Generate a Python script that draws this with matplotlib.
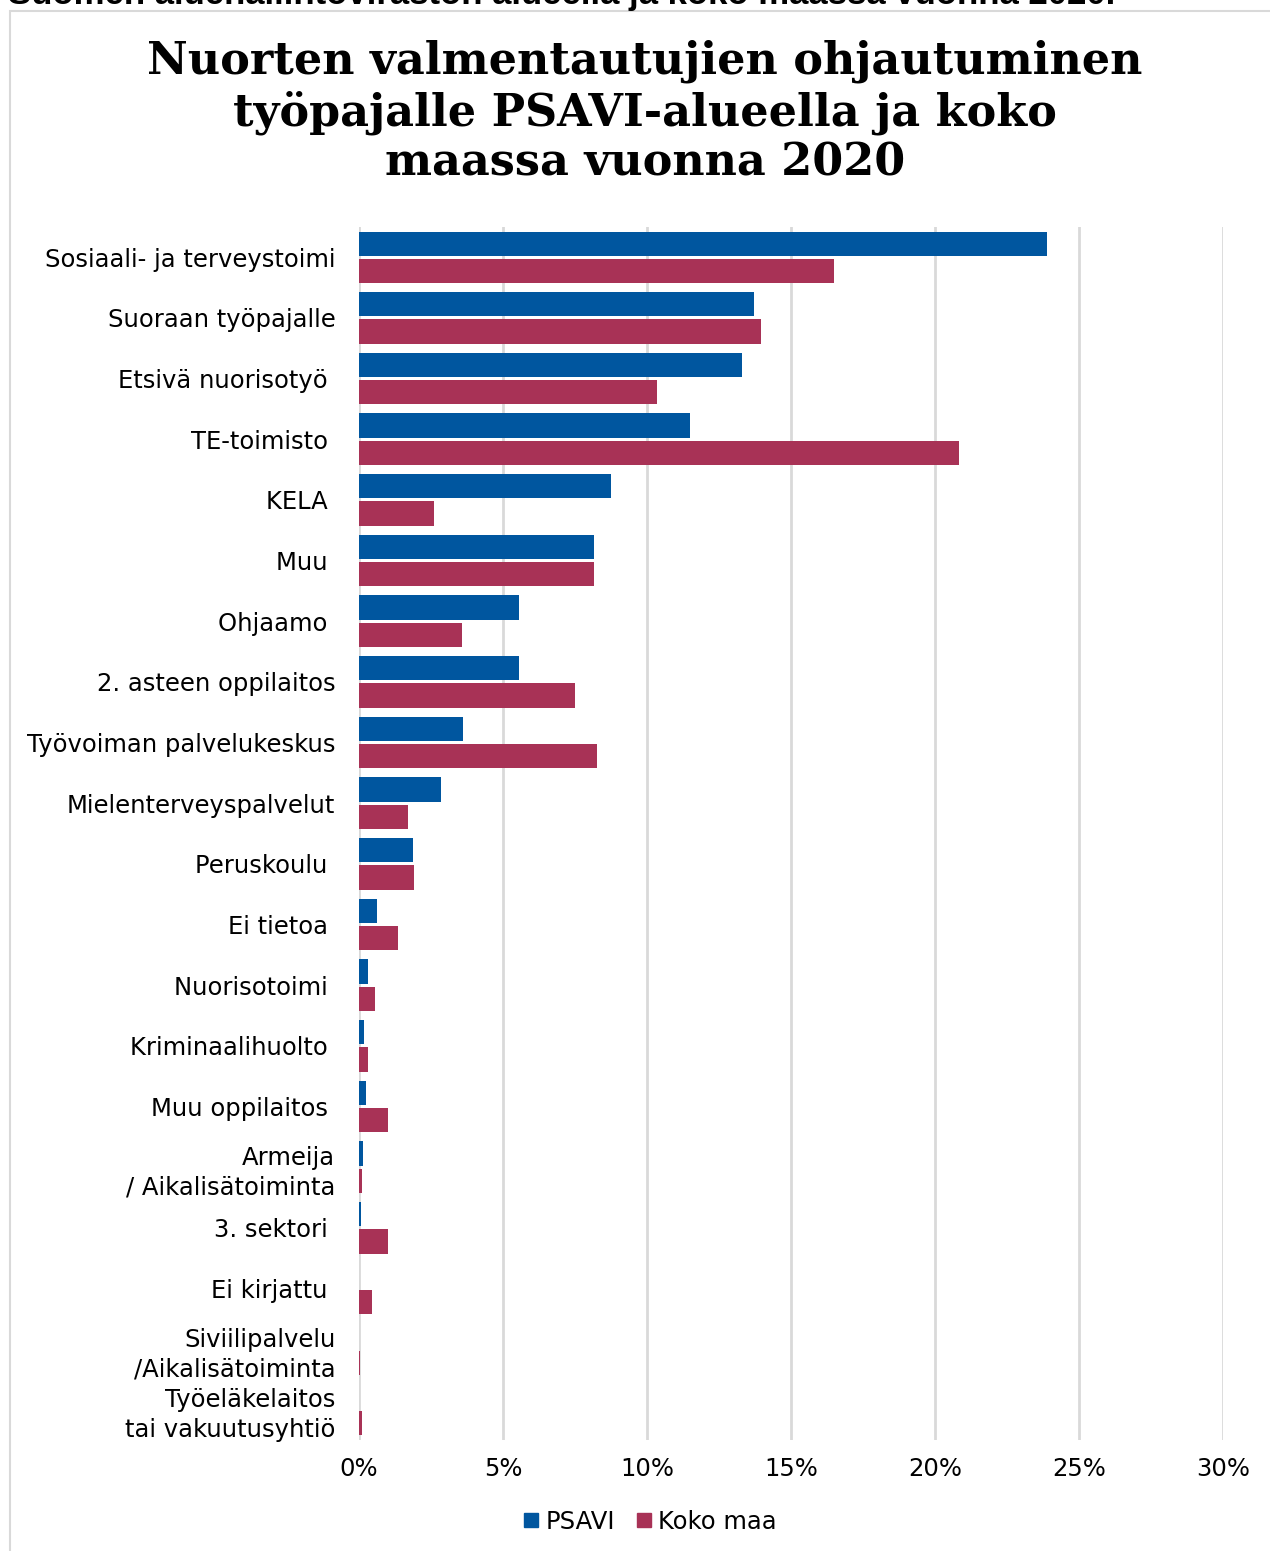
import matplotlib
matplotlib.use("Agg")
import matplotlib.pyplot as plt
from matplotlib.patches import Rectangle
from matplotlib.lines import Line2D
import numpy as np

categories = [
    "Sosiaali- ja terveystoimi",
    "Suoraan työpajalle",
    "Etsivä nuorisotyö ",
    "TE-toimisto ",
    "KELA ",
    "Muu ",
    "Ohjaamo ",
    "2. asteen oppilaitos",
    "Työvoiman palvelukeskus",
    "Mielenterveyspalvelut",
    "Peruskoulu ",
    "Ei tietoa ",
    "Nuorisotoimi ",
    "Kriminaalihuolto ",
    "Muu oppilaitos ",
    "Armeija\n/ Aikalisätoiminta",
    "3. sektori ",
    "Ei kirjattu ",
    "Siviilipalvelu\n/Aikalisätoiminta",
    "Työeläkelaitos\ntai vakuutusyhtiö",
]
psavi = [23.9, 13.7, 13.3, 11.5, 8.75, 8.15, 5.55, 5.55, 3.6, 2.85,
         1.87, 0.62, 0.31, 0.17, 0.24, 0.14, 0.07, 0.0, 0.0, 0.0]
koko_maa = [16.5, 13.95, 10.35, 20.85, 2.6, 8.15, 3.57, 7.5, 8.25, 1.7,
            1.9, 1.35, 0.55, 0.31, 1.0, 0.1, 1.0, 0.45, 0.05, 0.1]
series_names = ["PSAVI", "Koko maa"]
xticks = [0, 5, 10, 15, 20, 25, 30]

blue = "#00569F"
red = "#A83256"

fig = plt.figure(figsize=(12.7, 15.51), dpi=100)
W, H = 1270, 1551

# frame
fig.patches.append(Rectangle((10 / W, -0.01), 1.0, 1 - 11 / H + 0.01,
                             transform=fig.transFigure, fill=False,
                             edgecolor="#D9D9D9", linewidth=1.5))

# cut-off header text
fig.text(8 / W, 1 - 4 / H, "Suomen aluehallintoviraston alueella ja koko maassa vuonna 2020.",
         fontsize=25, fontweight="bold", family="Liberation Sans",
         ha="left", va="baseline")

ax = fig.add_axes([359 / W, 1 - 1440 / H, (1223 - 359) / W, (1440 - 227) / H])

n = len(categories)
y = np.arange(n)
h = 0.4
ax.barh(y - 0.225, psavi, height=h, color=blue, zorder=3)
ax.barh(y + 0.225, koko_maa, height=h, color=red, zorder=3)

ax.set_ylim(n - 0.5, -0.5)
ax.set_xlim(0, 30)
ax.set_xticks(xticks)
ax.set_xticklabels([f"{t}%" for t in xticks], fontsize=17.5, family="DejaVu Sans")
ax.set_yticks(y)
ax.set_yticklabels(categories, fontsize=17.5, family="DejaVu Sans", linespacing=1.3)
ax.tick_params(axis="both", length=0)
ax.tick_params(axis="x", pad=12)
ax.tick_params(axis="y", pad=17)
ax.grid(axis="x", color="#D9D9D9", linewidth=2, zorder=0)
for s in ax.spines.values():
    s.set_visible(False)

fig.text(645 / W, 1 - 112 / H,
         "Nuorten valmentautujien ohjautuminen\ntyöpajalle PSAVI-alueella ja koko\nmaassa vuonna 2020",
         fontsize=32, fontweight="bold", family="DejaVu Serif",
         ha="center", va="center", linespacing=1.2)

handles = [Line2D([], [], marker="s", linestyle="none", markersize=10, color=blue),
           Line2D([], [], marker="s", linestyle="none", markersize=10, color=red)]
fig.legend(handles, series_names, loc="center", bbox_to_anchor=(649 / W, 1 - 1522 / H),
           ncol=2, frameon=False, fontsize=17.5, handletextpad=0.2,
           columnspacing=0.8, handlelength=0.8)

fig.savefig("out.png", dpi=100)
